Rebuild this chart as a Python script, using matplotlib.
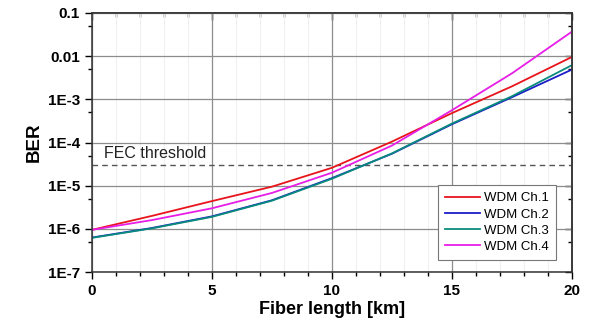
import matplotlib
matplotlib.use("Agg")
from matplotlib import pyplot as plt
from matplotlib.ticker import LogLocator, FixedLocator, FuncFormatter, MultipleLocator

plt.rcParams["font.family"] = ["Liberation Sans", "DejaVu Sans"]

# fiber length (km) and BER
length_km = [0, 2.5, 5, 7.5, 10, 12.5, 15, 17.5, 20]
ber_ch1 = [9.5e-7, 2.0e-6, 4.4e-6, 9.5e-6, 2.6e-5, 1.05e-4, 4.8e-4, 2.0e-3, 9.6e-3]
ber_ch2 = [6.3e-7, 1.05e-6, 1.95e-6, 4.6e-6, 1.5e-5, 5.5e-5, 2.65e-4, 1.12e-3, 4.9e-3]
ber_ch3 = [6.2e-7, 1.03e-6, 1.9e-6, 4.5e-6, 1.45e-5, 5.6e-5, 2.75e-4, 1.18e-3, 6.2e-3]
ber_ch4 = [9.5e-7, 1.6e-6, 3.0e-6, 6.8e-6, 2.0e-5, 8.5e-5, 5.6e-4, 4.0e-3, 3.7e-2]
fec_threshold = 3.0e-5

series = [
    ("WDM Ch.1", ber_ch1, "#e8141c"),
    ("WDM Ch.2", ber_ch2, "#1c1cc8"),
    ("WDM Ch.3", ber_ch3, "#0a8c7c"),
    ("WDM Ch.4", ber_ch4, "#e61ee6"),
]

ytick_vals = [1e-7, 1e-6, 1e-5, 1e-4, 1e-3, 1e-2, 1e-1]
ytick_labels = ["1E-7", "1E-6", "1E-5", "1E-4", "1E-3", "0.01", "0.1"]

fig = plt.figure(figsize=(5.89, 3.29), dpi=100)
ax = fig.add_axes([0.156, 0.173, 0.815, 0.7875])

ax.set_yscale("log")
ax.set_xlim(0, 20)
ax.set_ylim(1e-7, 1e-1)

# grids: faint minor, gray major
ax.xaxis.set_minor_locator(MultipleLocator(1))
ax.yaxis.set_major_locator(FixedLocator(ytick_vals))
ax.yaxis.set_minor_locator(LogLocator(base=10, subs=[5]))
ax.xaxis.set_major_locator(MultipleLocator(5))
ax.grid(which="minor", axis="x", color="#f0f0f0", lw=0.8)
ax.grid(which="major", color="#8c8c8c", lw=0.9)
ax.set_axisbelow(True)

ax.axhline(fec_threshold, color="#555555", lw=1.0, ls=(0, (4, 3)))
ax.text(0.5, fec_threshold * 1.45, "FEC threshold", fontsize=11.5, color="#222222")

for name, vals, col in series:
    ax.plot(length_km, vals, color=col, lw=1.3, label=name)

ax.yaxis.set_major_formatter(FuncFormatter(lambda v, p: ytick_labels[ytick_vals.index(v)] if v in ytick_vals else ""))
ax.yaxis.set_minor_formatter(FuncFormatter(lambda v, p: ""))

ax.tick_params(which="both", direction="out", width=1.0, top=False, right=False, labelsize=11)
ax.tick_params(which="major", length=5)
ax.tick_params(which="minor", length=3)
for lab in ax.get_xticklabels() + ax.get_yticklabels():
    lab.set_fontweight("bold")

# inward ticks on top and right
sec_x = ax.secondary_xaxis("top")
sec_x.xaxis.set_major_locator(MultipleLocator(5))
sec_x.xaxis.set_minor_locator(MultipleLocator(1))
sec_x.tick_params(which="both", direction="in", labeltop=False, width=1.0)
sec_x.tick_params(which="major", length=5)
sec_x.tick_params(which="minor", length=3)
sec_y = ax.secondary_yaxis("right")
sec_y.yaxis.set_major_locator(FixedLocator(ytick_vals))
sec_y.yaxis.set_minor_locator(LogLocator(base=10, subs=[5]))
sec_y.tick_params(which="both", direction="in", labelright=False, width=1.0)
sec_y.tick_params(which="major", length=5)
sec_y.tick_params(which="minor", length=3)
for s in list(ax.spines.values()) + [sec_x.spines["top"], sec_y.spines["right"]]:
    s.set_linewidth(1.1)
    s.set_color("#333333")

ax.set_xlabel("Fiber length [km]", fontsize=13, fontweight="bold", labelpad=2)
ax.set_ylabel("BER", fontsize=13.5, fontweight="bold", labelpad=4)

leg = ax.legend(loc="lower right", fontsize=9.5, frameon=True, fancybox=False,
                framealpha=1, edgecolor="#777777", handlelength=2.6, handletextpad=0.3,
                labelspacing=0.3, borderpad=0.55, bbox_to_anchor=(0.98, 0.02))
leg.get_frame().set_linewidth(0.8)

fig.savefig("out.png", dpi=100)
